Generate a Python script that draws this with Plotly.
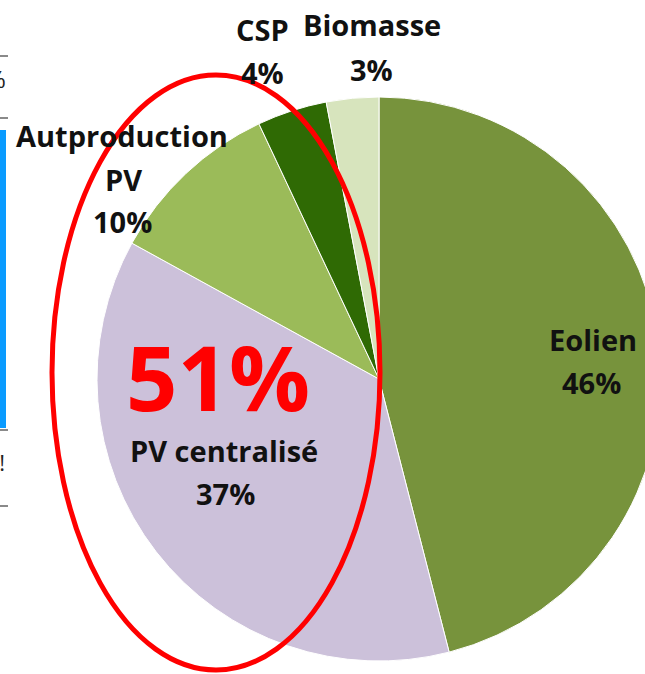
import plotly.graph_objects as go

# ---- data ----
categories = ["Eolien", "PV centralisé", "Autproduction PV", "CSP", "Biomasse"]
values = [46, 37, 10, 4, 3]
colors = ["#77933C", "#CCC1DA", "#9BBB59", "#2F6A04", "#D7E4BD"]
label_lines = [
    ["Eolien", "46%"],
    ["PV centralisé", "37%"],
    ["Autproduction", "PV", "10%"],
    ["CSP", "4%"],
    ["Biomasse", "3%"],
]
highlight_text = "51%"

W, H = 700, 674


def px(x):
    return x / W


def py(y):
    return 1 - y / H


# pie geometry (pixels): center (379, 379), radius 282
cx, cy, r = 379, 379, 282

fig = go.Figure()
fig.add_trace(go.Pie(
    labels=categories,
    values=values,
    sort=False,
    direction="clockwise",
    rotation=0,
    marker=dict(colors=colors, line=dict(color="white", width=1)),
    textinfo="none",
    hoverinfo="label+percent",
    showlegend=False,
    domain=dict(x=[px(cx - r), px(cx + r)], y=[py(cy + r), py(cy - r)]),
))

# label positions (pixel centers of each text line)
label_pos = [
    [(593, 339), (591, 382)],
    [(224, 450), (225, 493)],
    [(122, 136), (124, 179), (122, 221)],
    [(262, 30), (262, 72)],
    [(372, 24), (371, 69)],
]

font_family = "Open Sans, DejaVu Sans, sans-serif"
annotations = []
for lines, poss in zip(label_lines, label_pos):
    for t, (x, y) in zip(lines, poss):
        annotations.append(dict(
            x=px(x), y=py(y), xref="paper", yref="paper",
            text=f"<b>{t}</b>", showarrow=False,
            xanchor="center", yanchor="middle",
            font=dict(family=font_family, size=29, color="#111111"),
        ))

annotations.append(dict(
    x=px(218), y=py(376), xref="paper", yref="paper",
    text=f"<b>{highlight_text}</b>", showarrow=False,
    xanchor="center", yanchor="middle",
    font=dict(family=font_family, size=90, color="#FF0000"),
))

# cropped fragments at the left edge
annotations.append(dict(
    x=px(8), y=py(78), xref="paper", yref="paper", text="%", showarrow=False,
    xanchor="right", yanchor="middle",
    font=dict(family=font_family, size=24, color="#222"),
))
annotations.append(dict(
    x=px(7), y=py(462), xref="paper", yref="paper", text="a!", showarrow=False,
    xanchor="right", yanchor="middle",
    font=dict(family=font_family, size=22, color="#222"),
))

shapes = [
    # red highlight ellipse
    dict(type="circle", xref="paper", yref="paper",
         x0=px(52), x1=px(380), y0=py(670), y1=py(75),
         line=dict(color="#FF0000", width=5)),
    # left edge remnants
    dict(type="rect", xref="paper", yref="paper",
         x0=px(0), x1=px(6), y0=py(428), y1=py(130),
         fillcolor="#0A9BFF", line=dict(width=0)),
]
for yy in [56, 118, 430, 506]:
    shapes.append(dict(type="line", xref="paper", yref="paper",
                       x0=px(0), x1=px(8), y0=py(yy), y1=py(yy),
                       line=dict(color="#8A8A8A", width=2)))

fig.update_layout(
    width=W, height=H,
    margin=dict(l=0, r=0, t=0, b=0),
    paper_bgcolor="white",
    plot_bgcolor="white",
    annotations=annotations,
    shapes=shapes,
)

fig.write_html(
    "out.html",
    post_script="document.body.style.margin='0';document.body.style.overflow='hidden';",
)
